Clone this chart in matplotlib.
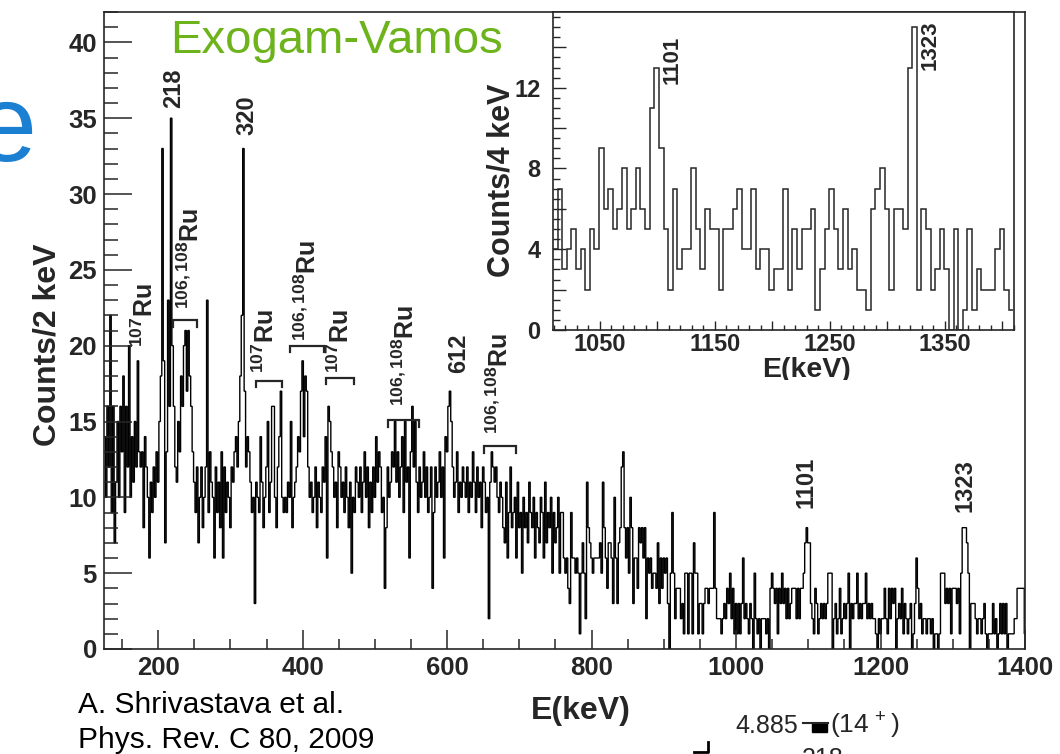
import numpy as np
import matplotlib
matplotlib.use("Agg")
import matplotlib.pyplot as plt
from matplotlib.ticker import MultipleLocator
from matplotlib.transforms import Bbox, TransformedBbox

plt.rcParams["font.family"] = ["Liberation Sans", "DejaVu Sans"]
plt.rcParams["mathtext.fontset"] = "custom"
plt.rcParams["mathtext.rm"] = "Liberation Sans"
plt.rcParams["mathtext.bf"] = "Liberation Sans:bold"

INK = "#262626"

# gamma spectrum, 2 keV bins starting at 125 keV
counts_125 = [14, 10, 16, 12, 22, 9, 16, 7, 11, 15, 10, 16, 13, 18, 9, 16, 12, 20, 10, 14, 11, 15, 12, 19, 13]
counts_175 = [12, 13, 8, 14, 12, 10, 6, 11, 9, 12, 10, 13, 11, 15, 18, 33, 19, 7, 13, 23, 16, 35, 20, 16, 12]
counts_225 = [11, 15, 13, 18, 16, 20, 21, 17, 21, 18, 16, 13, 11, 9, 12, 7, 10, 12, 8, 10, 12, 23, 9, 13, 11]
counts_275 = [10, 6, 12, 9, 11, 8, 13, 6, 12, 9, 11, 10, 8, 12, 11, 13, 14, 12, 15, 18, 22, 33, 17, 12, 14]
counts_325 = [13, 11, 9, 10, 3, 11, 10, 9, 14, 11, 8, 10, 12, 15, 9, 11, 16, 16, 10, 8, 12, 14, 17, 10, 9]
counts_375 = [10, 9, 11, 10, 15, 8, 10, 11, 12, 14, 13, 17, 19, 14, 18, 17, 12, 10, 11, 9, 10, 12, 8, 11, 10]
counts_425 = [9, 12, 11, 14, 6, 16, 15, 13, 12, 10, 11, 8, 13, 12, 10, 11, 9, 12, 10, 8, 11, 5, 10, 9, 12]
counts_475 = [11, 10, 12, 9, 11, 13, 10, 12, 8, 11, 9, 12, 10, 14, 11, 13, 12, 9, 10, 4, 8, 12, 10, 11, 13]
counts_525 = [12, 15, 11, 13, 10, 12, 14, 9, 15, 11, 12, 6, 13, 16, 12, 15, 11, 9, 12, 10, 11, 13, 10, 12, 9]
counts_575 = [10, 12, 4, 9, 12, 10, 11, 13, 10, 12, 6, 14, 13, 16, 17, 15, 12, 10, 11, 13, 9, 11, 10, 12, 11]
counts_625 = [10, 12, 9, 11, 10, 13, 11, 9, 12, 10, 11, 8, 12, 11, 9, 10, 2, 11, 13, 12, 11, 12, 10, 9, 11]
counts_675 = [10, 8, 7, 11, 6, 9, 12, 8, 9, 10, 6, 11, 8, 9, 5, 10, 8, 9, 7, 11, 9, 8, 10, 6, 9]
counts_725 = [8, 7, 10, 9, 6, 11, 7, 9, 8, 10, 5, 9, 7, 8, 10]
counts_755 = [5, 9, 9, 6, 5, 6, 4, 3, 9, 6, 6, 5, 6, 5, 1, 5, 7, 5, 2, 11, 8, 7, 6, 5, 6]
counts_805 = [6, 6, 6, 7, 5, 11, 8, 6, 4, 7, 7, 6, 3, 10, 6, 3, 7, 8, 12, 13, 8, 6, 8, 5, 10]
counts_855 = [8, 3, 6, 6, 4, 8, 7, 8, 6, 8, 2, 6, 5, 6, 4, 5, 5, 4, 7, 3, 6, 4, 6, 5, 6]
counts_905 = [3, 0, 5, 9, 5, 2, 4, 4, 4, 2, 3, 1, 5, 5, 1, 5, 5, 1, 7, 5, 5, 1, 3, 3, 1]
counts_955 = [3, 4, 4, 3, 4, 4, 4, 9, 4, 2, 2, 2, 1, 2, 3, 2, 4, 3, 5, 2, 4, 1, 3, 1, 3]
counts_1005 = [1, 3, 6, 2, 3, 2, 1, 3, 2, 0, 5, 2, 1, 2, 0, 2, 2, 2, 1, 2, 0, 4, 5, 4, 3]
counts_1055 = [4, 1, 4, 3, 5, 3, 4, 2, 4, 2, 3, 4, 4, 4, 2, 4, 2, 4, 4, 5, 7, 8, 7, 7, 3]
counts_1105 = [2, 1, 4, 3, 1, 2, 3, 2, 3, 2, 3, 5, 5, 5, 0, 2, 3, 1, 2, 4, 1, 2, 3, 2, 3]
counts_1155 = [5, 0, 3, 2, 3, 3, 5, 2, 3, 2, 3, 3, 5, 2, 3, 2, 3, 2, 2, 1, 0, 2, 1, 2, 2]
counts_1205 = [4, 2, 1, 4, 2, 4, 3, 4, 0, 2, 3, 2, 4, 1, 3, 2, 1, 2, 3, 0, 1, 3, 6, 4, 2]
counts_1255 = [3, 1, 2, 2, 1, 2, 2, 1, 2, 0, 1, 1, 0, 1, 5, 5, 5, 3, 4, 3, 4, 1, 4, 4, 4]
counts_1305 = [3, 4, 1, 5, 8, 8, 8, 7, 5, 0, 3, 3, 3, 2, 1, 2, 2, 1, 2, 3, 1, 0, 1, 1, 1]
counts_1355 = [3, 1, 2, 0, 1, 3, 1, 3, 1, 3, 0, 1, 1, 1, 1, 2, 2, 4, 4, 4, 4, 4, 1]

# high-energy part, 4 keV bins
inset_counts = [4, 7, 3, 4, 5, 3, 4, 2, 5, 4, 9, 6, 7, 5, 6, 8, 5, 6, 8, 6,
                5, 11, 13, 9, 5, 2, 7, 3, 4, 4, 8, 5, 3, 6, 5, 5, 2, 5, 5, 6,
                7, 4, 4, 7, 3, 4, 4, 2, 3, 3, 7, 2, 5, 3, 5, 5, 6, 1, 3, 5,
                7, 5, 3, 6, 3, 4, 2, 2, 1, 6, 7, 8, 6, 2, 6, 6, 5, 13, 15, 2,
                6, 5, 2, 3, 5, 3, 0, 5, 0, 1, 5, 1, 3, 2, 2, 2, 4, 5, 2, 1]

peak_labels = ["218", "320", "612", "1101", "1323"]
peak_pos = [(222, 35.7), (323, 33.9), (616.5, 18.2), (1097, 9.3), (1317, 9.0)]

ru_labels = [r"$\mathbf{{}^{107}Ru}$", r"$\mathbf{{}^{106,108}Ru}$", r"$\mathbf{{}^{107}Ru}$",
             r"$\mathbf{{}^{106,108}Ru}$", r"$\mathbf{{}^{107}Ru}$", r"$\mathbf{{}^{106,108}Ru}$",
             r"$\mathbf{{}^{106,108}Ru}$"]
ru_pos = [(181, 19.9), (245, 22.4), (349, 18.2), (407.5, 20.3), (453.5, 18.2), (543, 16.0), (673, 14.2)]
brackets = [(221, 253.5, 21.7), (335, 372, 17.7), (383, 429, 20.0), (433, 471, 17.9),
            (518, 561, 15.1), (651, 696, 13.4)]

counts = np.array(counts_125 + counts_175 + counts_225 + counts_275 + counts_325 + counts_375
                  + counts_425 + counts_475 + counts_525 + counts_575 + counts_625 + counts_675
                  + counts_725 + counts_755 + counts_805 + counts_855 + counts_905 + counts_955
                  + counts_1005 + counts_1055 + counts_1105 + counts_1155 + counts_1205
                  + counts_1255 + counts_1305 + counts_1355, dtype=float)
edges = 125 + 2 * np.arange(len(counts) + 1)
inset_vals = np.array(inset_counts, dtype=float)
inset_edges = 1009.5 + 4 * np.arange(len(inset_vals) + 1)

W, H = 1060, 754
fig = plt.figure(figsize=(W / 100, H / 100), dpi=100)


def px(x0, y0, x1, y1):
    return [x0 / W, 1 - y1 / H, (x1 - x0) / W, (y1 - y0) / H]


def style_frame(ax):
    for s in ax.spines.values():
        s.set_color(INK)
        s.set_linewidth(1.2)


# main spectrum
ax = fig.add_axes(px(104, 12, 1025, 649))
ax.stairs(counts, edges, baseline=None, color="black", lw=1.0)
ax.set_xlim(125, 1400)
ax.set_ylim(0, 42)
style_frame(ax)
ax.xaxis.set_major_locator(MultipleLocator(200))
ax.xaxis.set_minor_locator(MultipleLocator(50))
ax.yaxis.set_major_locator(MultipleLocator(5))
ax.yaxis.set_minor_locator(MultipleLocator(1))
ax.tick_params(which="both", direction="in", top=False, right=False, color=INK, width=1.1,
               labelcolor=INK)
ax.tick_params(axis="y", which="major", length=20, pad=5, labelsize=18.5)
ax.tick_params(axis="y", which="minor", length=10)
ax.tick_params(axis="x", which="major", length=13.5, pad=5, labelsize=18.5)
ax.tick_params(axis="x", which="minor", length=7)
ax.set_xticks([200, 400, 600, 800, 1000, 1200, 1400])
for lab in ax.get_xticklabels() + ax.get_yticklabels():
    lab.set_fontweight("bold")

fig.text(48 / W, 1 - 345 / H, "Counts/2 keV", rotation=90, ha="center", va="center",
         fontsize=23, fontweight="bold", color=INK)
fig.text(581 / W, 1 - 711 / H, "E(keV)", ha="center", va="center",
         fontsize=23, fontweight="bold", color=INK)

for lab, (x, y) in zip(peak_labels, peak_pos):
    ax.text(x, y, lab, rotation=90, ha="center", va="bottom", fontsize=17,
            fontweight="bold", color=INK)
for lab, (x, y) in zip(ru_labels, ru_pos):
    ax.text(x, y, lab, rotation=90, ha="center", va="bottom", fontsize=18, color=INK)
for x0, x1, y in brackets:
    ax.plot([x0, x0, x1, x1], [y - 0.45, y, y, y - 0.45], color=INK, lw=1.6,
            solid_joinstyle="miter")

# zoomed high-energy window
ins = fig.add_axes(px(553, 12, 1014, 330))
ins.stairs(inset_vals, inset_edges, baseline=None, color=INK, lw=1.1)
ins.set_xlim(1009.5, 1410)
ins.set_ylim(0, 15.75)
style_frame(ins)
ins.xaxis.set_major_locator(MultipleLocator(50))
ins.xaxis.set_minor_locator(MultipleLocator(10))
ins.yaxis.set_major_locator(MultipleLocator(2))
ins.yaxis.set_minor_locator(MultipleLocator(0.5))
ins.tick_params(which="both", direction="in", top=False, right=False, color=INK, width=1.0,
                labelcolor=INK)
ins.tick_params(axis="y", which="major", length=9.5, pad=9, labelsize=17)
ins.tick_params(axis="y", which="minor", length=5)
ins.tick_params(axis="x", which="major", length=6.5, pad=2, labelsize=17)
ins.tick_params(axis="x", which="minor", length=3.5)
ins.xaxis.set_major_formatter(lambda v, p: f"{v:.0f}" if int(round(v)) % 100 == 50 else "")
ins.yaxis.set_major_formatter(lambda v, p: f"{v:.0f}" if int(round(v)) % 4 == 0 else "")
for lab in ins.get_xticklabels() + ins.get_yticklabels():
    lab.set_fontweight("bold")

fig.text(502 / W, 1 - 180 / H, "Counts/4 keV", rotation=90, ha="center", va="center",
         fontsize=22, fontweight="bold", color=INK)
xl = fig.text(807 / W, 1 - 377 / H, "E(keV)", ha="center", va="baseline",
              fontsize=20.5, fontweight="bold", color=INK)
xl.set_clip_box(TransformedBbox(Bbox([[0, (H - 380) / H], [1, 1]]), fig.transFigure))
xl.set_clip_on(True)

ins.text(1113, 12.2, "1101", rotation=90, ha="center", va="bottom", fontsize=16,
         fontweight="bold", color=INK)
ins.text(1337, 12.9, "1323", rotation=90, ha="center", va="bottom", fontsize=16,
         fontweight="bold", color=INK)

# slide decorations
fig.text(170 / W, 1 - 53 / H, "Exogam-Vamos", ha="left", va="baseline", fontsize=34,
         color="#6db31c")
fig.text(36 / W, 1 - 161 / H, "e", ha="right", va="baseline", fontsize=79, color="#1b7fd2")
fig.text(78 / W, 1 - 713 / H, "A. Shrivastava et al.", ha="left", va="baseline",
         fontsize=21.5, color="black")
fig.text(78 / W, 1 - 748 / H, "Phys. Rev. C 80, 2009", ha="left", va="baseline",
         fontsize=21.5, color="black")

# fragment of the level scheme
fig.text(735 / W, 1 - 733 / H, "4.885", ha="left", va="baseline", fontsize=18, color=INK)
fig.text(830 / W, 1 - 733 / H, r"(14$^{\,+}$)", ha="left", va="baseline", fontsize=19, color=INK)
fig.text(823 / W, 1 - 766 / H, "218", ha="center", va="baseline", fontsize=18, color=INK)
fig.add_artist(plt.Line2D([803 / W, 828 / W], [1 - 723 / H, 1 - 723 / H], color=INK, lw=1.5))
fig.add_artist(plt.Rectangle((812 / W, 1 - 732 / H), 15 / W, 9 / H, color="black"))
fig.add_artist(plt.Line2D([694 / W, 708 / W, 708 / W], [1 - 752 / H, 1 - 752 / H, 1 - 742 / H],
                          color="black", lw=2))

fig.savefig("out.png", dpi=100)
